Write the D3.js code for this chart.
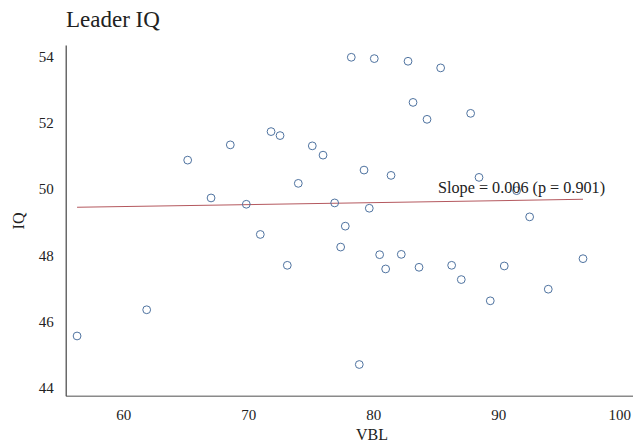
<!DOCTYPE html>
<html>
<head>
<meta charset="utf-8">
<script src="https://cdn.jsdelivr.net/npm/d3@7"></script>
<style>
  html, body { margin: 0; padding: 0; background: #fff; }
  svg { display: block; }
  text { font-family: "Liberation Serif", "Times New Roman", serif; fill: #222; }
</style>
</head>
<body>
<svg id="chart" width="633" height="446"></svg>
<script>
const vbl = [56.30, 61.87, 65.15, 67.02, 68.56, 69.84, 70.96, 71.82, 72.54, 73.12,
             74.00, 75.12, 75.98, 76.91, 77.39, 77.76, 78.24, 78.88, 79.26, 79.68,
             80.08, 80.51, 80.99, 81.42, 82.24, 82.78, 83.18, 83.66, 84.30, 85.39,
             86.27, 87.04, 87.79, 88.46, 89.36, 90.48, 91.47, 92.51, 94.00, 96.78];
const iq  = [45.57, 46.36, 50.87, 49.73, 51.33, 49.54, 48.63, 51.73, 51.61, 47.70,
             50.17, 51.30, 51.02, 49.58, 48.25, 48.88, 53.97, 44.71, 50.57, 49.42,
             53.93, 48.02, 47.59, 50.41, 48.03, 53.85, 52.61, 47.64, 52.10, 53.65,
             47.70, 47.27, 52.28, 50.35, 46.63, 47.68, 49.95, 49.16, 46.98, 47.90];
const fitX = [56.30, 96.78];
const fitY = [49.45, 49.69];
const xTicks = [60, 70, 80, 90, 100];
const yTicks = [44, 46, 48, 50, 52, 54];
const title = "Leader IQ";
const xTitle = "VBL";
const yTitle = "IQ";
const annotation = "Slope = 0.006 (p = 0.901)";

const svg = d3.select("#chart");
const mLeft = 65.7, mRight = 633, mTop = 45, mBottom = 395.7;

const x = d3.scaleLinear().domain([55.39, 100.78]).range([mLeft, mRight]);
const y = d3.scaleLinear().domain([43.77, 54.34]).range([mBottom, mTop]);

// title
svg.append("text").attr("x", 66).attr("y", 27)
  .attr("font-size", 23).text(title);

// axes
const xAxis = svg.append("g").attr("transform", `translate(0,${mBottom})`)
  .call(d3.axisBottom(x).tickValues(xTicks).tickSize(0).tickPadding(14).tickFormat(d3.format("d")));
xAxis.select(".domain").attr("stroke", "#8a8a8a").attr("stroke-width", 1.6);
xAxis.selectAll("text").attr("font-size", 15).attr("fill", "#333")
  .attr("dx", d => d === 100 ? -4 : 0);

const yAxis = svg.append("g").attr("transform", `translate(${mLeft},0)`)
  .call(d3.axisLeft(y).tickValues(yTicks).tickSize(0).tickPadding(12).tickFormat(d3.format("d")));
yAxis.select(".domain").attr("stroke", "#444").attr("stroke-width", 1.2);
yAxis.selectAll("text").attr("font-size", 15).attr("fill", "#333");

// axis titles
svg.append("text").attr("x", 372).attr("y", 440).attr("text-anchor", "middle")
  .attr("font-size", 16).text(xTitle);
svg.append("text").attr("transform", "translate(24,221) rotate(-90)")
  .attr("text-anchor", "middle").attr("font-size", 16).text(yTitle);

// regression line
svg.append("line")
  .attr("x1", x(fitX[0])).attr("y1", y(fitY[0]))
  .attr("x2", x(fitX[1])).attr("y2", y(fitY[1]))
  .attr("stroke", "#b4585e").attr("stroke-width", 1.1);

// points
svg.append("g").selectAll("circle")
  .data(vbl.map((v, i) => [v, iq[i]]))
  .join("circle")
  .attr("cx", d => x(d[0])).attr("cy", d => y(d[1]))
  .attr("r", 3.9)
  .attr("fill", "none")
  .attr("stroke", "#4f73a0")
  .attr("stroke-width", 1);

// annotation
svg.append("text").attr("x", 438).attr("y", 193).attr("font-size", 16.2)
  .attr("fill", "#222").text(annotation);
</script>
</body>
</html>
